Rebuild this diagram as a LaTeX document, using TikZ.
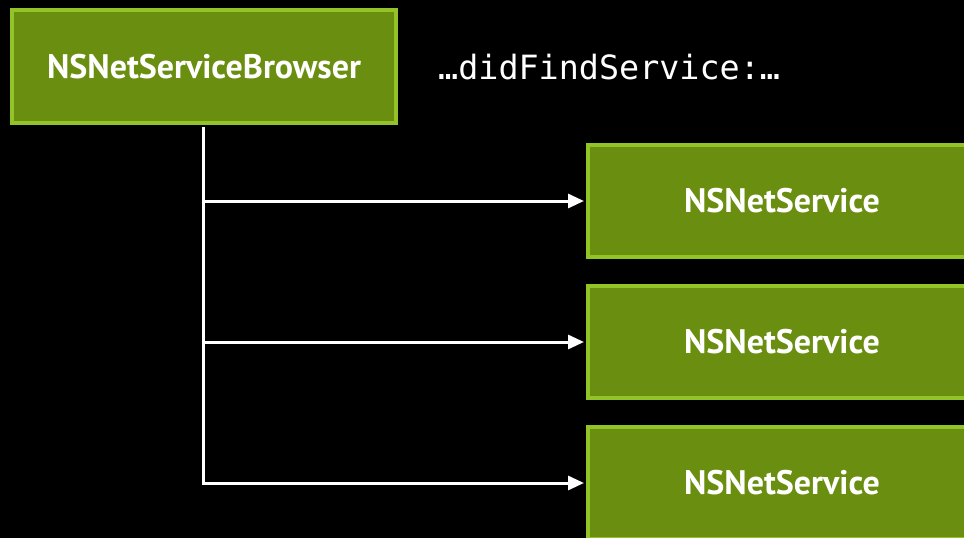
\documentclass[tikz,border=0pt]{standalone}
\usepackage{fontspec}
\setmainfont{PT Sans}
\newfontfamily\codefont{DejaVu Sans Mono}
\usetikzlibrary{arrows.meta}
\definecolor{boxfill}{RGB}{106,142,16}
\definecolor{boxedge}{RGB}{146,196,40}
\tikzset{
  x=1pt, y=-1pt,
  classbox/.style={draw=boxedge, line width=4pt, fill=boxfill, text=white,
    font=\fontsize{34}{38}\selectfont\bfseries, inner sep=0pt},
  link/.style={draw=white, line width=3pt, -{Triangle[length=16pt,width=14pt]}},
  spineline/.style={draw=white, line width=3pt},
}
\begin{document}
\begin{tikzpicture}
  \fill[black] (0,0) rectangle (964,538);
  \useasboundingbox (0,0) rectangle (964,538);
  \clip (0,0) rectangle (964,538);

  % browser object and the services it reports
  \node[classbox, minimum width=384pt, minimum height=113pt] (browser) at (204,66.5) {NSNetServiceBrowser};
  \node[classbox, minimum width=388pt, minimum height=112pt] (svcA) at (782,201) {NSNetService};
  \node[classbox, minimum width=388pt, minimum height=112pt] (svcB) at (782,342) {NSNetService};
  \node[classbox, minimum width=388pt, minimum height=112pt] (svcC) at (782,483) {NSNetService};

  % delegate callback label
  \node[anchor=west, text=white, font=\codefont\fontsize{33.4}{38}\selectfont, inner sep=0pt] (callback) at (438,67) {…didFindService:…};

  % branching connectors
  \coordinate (spine) at (203,0);
  \draw[spineline] ([yshift=-2pt]browser.south -| spine) -- (svcC.west -| spine);
  \draw[link] (svcA.west -| spine) -- ([xshift=-2pt]svcA.west);
  \draw[link] (svcB.west -| spine) -- ([xshift=-2pt]svcB.west);
  \draw[link, line cap=rect] (svcC.west -| spine) -- ([xshift=-2pt]svcC.west);
\end{tikzpicture}
\end{document}
